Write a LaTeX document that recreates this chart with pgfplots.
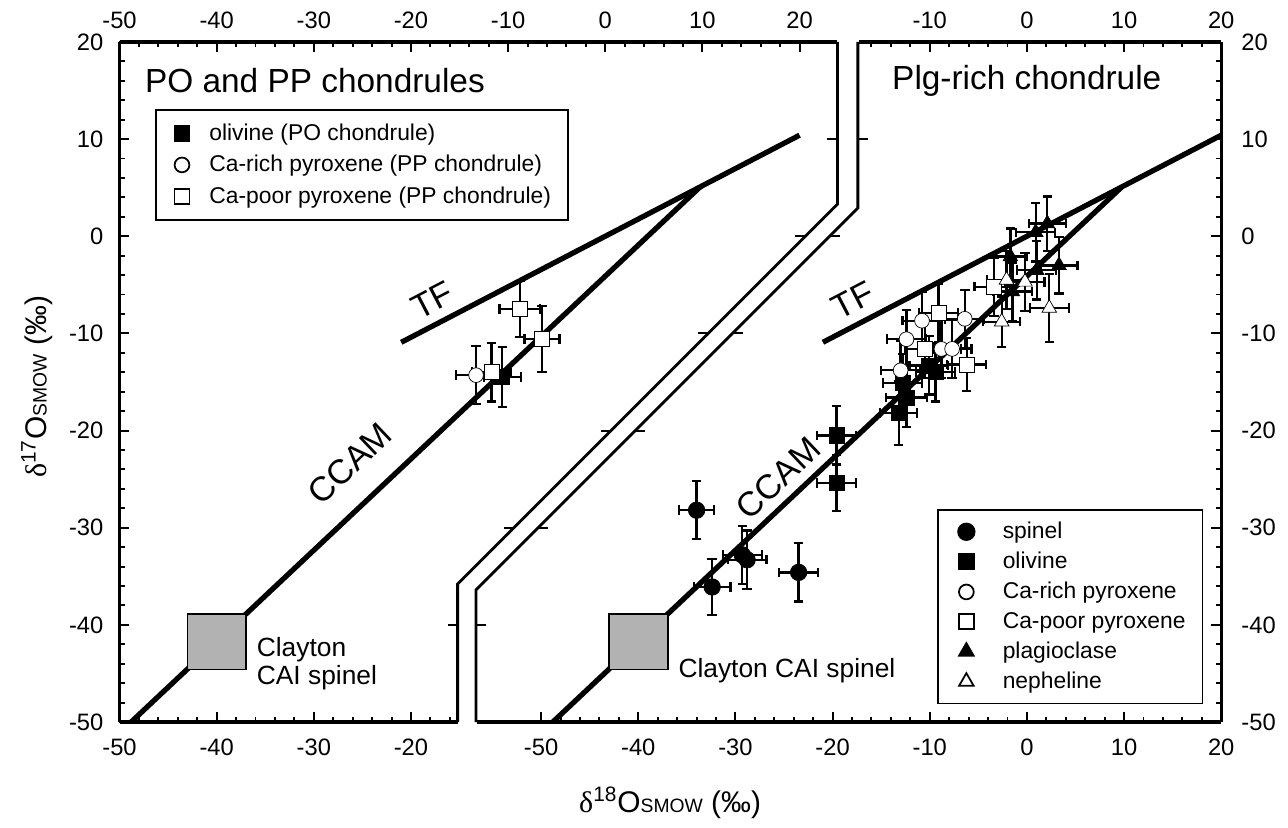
\documentclass[border=0pt]{standalone}
\usepackage{fontspec}
\setmainfont{Liberation Sans}
\newfontfamily\grk{Liberation Serif}
\usepackage{pgfplots}
\pgfplotsset{compat=1.18}

\def\W{22.034cm}
\def\H{13.601cm}

\tikzset{lbl/.style={inner sep=0pt, anchor=west}}
\pgfplotsset{
  base/.style={
    scale only axis, x=0.1943cm, y=0.1943cm,
    ymin=-50, ymax=20, clip=false,
    tick align=inside,
    major tick length=0.2cm, minor tick length=0.11cm,
    every tick/.append style={black, line width=1.1pt},
    axis line style={line width=1.8pt},
    tick label style={font=\fontsize{13.5}{15}\selectfont},
    /pgf/number format/assume math mode=true,
  },
  xonly/.style={base, axis y line=none, ytick=\empty},
  yonly/.style={base, axis x line=none, xtick=\empty,
    ytick={-50,-40,...,20}, minor ytick={-48,-46,...,18}},
  eb/.style={only marks, mark options={line width=1pt, solid},
    error bars/x dir=both, error bars/x explicit,
    error bars/y dir=both, error bars/y explicit,
    error bars/error mark=|,
    error bars/error bar style={line width=1.3pt},
    error bars/error mark options={line width=1.3pt, mark size=2.7pt}},
  fsq/.style={eb, mark=square*, mark size=4.3pt, mark options={fill=black}},
  osq/.style={eb, mark=square*, mark size=4.3pt, mark options={fill=white}},
  fci/.style={eb, mark=*, mark size=4.7pt, mark options={fill=black}},
  oci/.style={eb, mark=*, mark size=4.2pt, mark options={fill=white}},
  ftr/.style={eb, mark=triangle*, mark size=4.8pt, mark options={fill=black}},
  otr/.style={eb, mark=triangle*, mark size=4.8pt, mark options={fill=white}},
  refline/.style={line width=3pt, no marks},
  lgd/.style={legend cell align=left,
    legend style={draw=black, line width=1pt, font=\fontsize{13}{15}\selectfont,
      inner xsep=3pt}},
}

\begin{document}
\begin{tikzpicture}
\path[use as bounding box] (-2.39cm,-2.1cm) rectangle (23.37cm,14.44cm);
% x axis segments
\begin{axis}[xonly, axis x line*=bottom, xmin=-50, xmax=-15.2,
  xtick={-50,-40,-30,-20}, minor xtick={-48,-46,...,-16},
  xticklabel style={yshift=-0.22cm}, at={(0,0)}, anchor=south west]
\end{axis}
\begin{axis}[xonly, axis x line*=top, xmin=-50, xmax=23.9,
  xtick={-50,-40,...,20}, minor xtick={-48,-46,...,18},
  xticklabel style={yshift=0.14cm}, at={(0,\H)}, anchor=north west]
\end{axis}
\begin{axis}[xonly, axis x line*=bottom, xmin=-56.6, xmax=20,
  xtick={-50,-40,...,20}, minor xtick={-48,-46,...,18},
  xticklabel style={yshift=-0.22cm}, at={(\W,0)}, anchor=south east]
\end{axis}
\begin{axis}[xonly, axis x line*=top, xmin=-17.3, xmax=20,
  xtick={-10,0,10,20}, minor xtick={-16,-14,...,18},
  xticklabel style={yshift=0.14cm}, at={(\W,\H)}, anchor=north east]
\end{axis}

% left panel (PO and PP chondrules)
\begin{axis}[yonly, axis y line*=left, lgd, xmin=-50, xmax=63.4,
  at={(0,0)}, anchor=south west, yticklabel style={xshift=-0.2cm},
  legend image code/.code={\path (-0.40cm,0cm) (0.46cm,0cm);
    \draw[#1, only marks] plot coordinates {(0cm,0cm)};},
  legend style={at={(0.0322,0.9015)}, anchor=north west, row sep=3.0pt,
    inner ysep=6pt}]
\addplot[fsq] table[x=x,y=y,x error=ex,y error=ey] {
x y ex ey
-10.6 -14.5 1.9 3.1
};
\addlegendentry{olivine (PO chondrule)}
\addplot[oci] table[x=x,y=y,x error=ex,y error=ey] {
x y ex ey
-13.3 -14.3 2.1 3.0
};
\addlegendentry{Ca-rich pyroxene (PP chondrule)}
\addplot[osq] table[x=x,y=y,x error=ex,y error=ey] {
x y ex ey
-8.8 -7.5 2.1 2.9
-6.5 -10.6 1.8 3.4
-11.7 -14.0 2.0 3.0
};
\addlegendentry{Ca-poor pyroxene (PP chondrule)\kern0.16cm}
\addplot[refline, forget plot] coordinates {(-48.8,-50) (9.76,5.07)};
\addplot[refline, forget plot] coordinates {(-21,-10.92) (20,10.4)};
\addplot[fill=black!30, draw=black, line width=0.9pt, forget plot]
  coordinates {(-43.0,-44.6) (-36.96,-44.6) (-36.96,-38.9) (-43.0,-38.9)} -- cycle;
\node[lbl, font=\fontsize{19}{20}\selectfont] at (axis cs:-47.4,16.0) {PO and PP chondrules};
\node[lbl, align=left, font=\fontsize{15}{15.5}\selectfont] at (axis cs:-35.9,-44.0) {Clayton\\CAI spinel};
\node[rotate=27.5, font=\fontsize{19.5}{21}\selectfont] at (axis cs:-17.8,-6.6) {TF};
\node[rotate=43.5, font=\fontsize{19.5}{21}\selectfont] at (axis cs:-26.3,-23.4) {CCAM};
% break lines
\draw[line width=1.6pt] (axis cs:23.9,20) -- (axis cs:23.9,3.3) -- (axis cs:-15.2,-35.8) -- (axis cs:-15.2,-50);
\draw[line width=1.6pt] (axis cs:26.0,20) -- (axis cs:26.0,2.9) -- (axis cs:-13.3,-36.4) -- (axis cs:-13.3,-50);
\draw[line width=1.1pt] (axis cs:23.9,10) -- (axis cs:22.87,10);
\draw[line width=1.1pt] (axis cs:26.0,10) -- (axis cs:27.03,10);
\draw[line width=1.1pt] (axis cs:20.6,0) -- (axis cs:19.57,0);
\draw[line width=1.1pt] (axis cs:23.1,0) -- (axis cs:24.13,0);
\draw[line width=1.1pt] (axis cs:10.6,-10) -- (axis cs:9.57,-10);
\draw[line width=1.1pt] (axis cs:13.1,-10) -- (axis cs:14.13,-10);
\draw[line width=1.1pt] (axis cs:0.6,-20) -- (axis cs:-0.43,-20);
\draw[line width=1.1pt] (axis cs:3.1,-20) -- (axis cs:4.13,-20);
\draw[line width=1.1pt] (axis cs:-9.4,-30) -- (axis cs:-10.43,-30);
\draw[line width=1.1pt] (axis cs:-6.9,-30) -- (axis cs:-5.87,-30);
\draw[line width=1.1pt] (axis cs:-15.2,-40) -- (axis cs:-16.23,-40);
\draw[line width=1.1pt] (axis cs:-13.3,-40) -- (axis cs:-12.27,-40);
\node[rotate=90, font=\fontsize{17}{20}\selectfont] at (axis cs:-58.5,-15.5)
  {{\grk δ}\textsuperscript{17}O{\fontsize{11}{12}\selectfont SMOW} (‰)};
\node[font=\fontsize{17}{20}\selectfont] at (axis cs:6.67,-58.3)
  {{\grk δ}\textsuperscript{18}O{\fontsize{11}{12}\selectfont SMOW} (‰)};
\end{axis}

% right panel (Plg-rich chondrule)
\begin{axis}[yonly, axis y line*=right, lgd, xmin=-93.4, xmax=20,
  at={(0,0)}, anchor=south west, yticklabel style={xshift=0.28cm},
  legend image code/.code={\path (-0.44cm,0cm) (0.64cm,0cm);
    \draw[#1, only marks] plot coordinates {(0cm,0cm)};},
  legend style={at={(0.9837,0.3132)}, anchor=north east, row sep=2.2pt,
    inner ysep=5pt}]
\addplot[fci] table[x=x,y=y,x error=ex,y error=ey] {
x y ex ey
-34.0 -28.2 1.8 3.0
-32.4 -36.1 1.9 2.9
-29.3 -32.8 2.0 3.0
-28.8 -33.3 2.0 3.0
-23.5 -34.6 2.0 3.0
};
\addlegendentry{spinel}
\addplot[fsq] table[x=x,y=y,x error=ex,y error=ey] {
x y ex ey
-19.6 -20.5 2.0 3.0
-19.6 -25.4 2.0 2.9
-13.2 -18.2 1.9 3.3
-12.8 -15.1 2.0 3.0
-12.4 -16.6 2.1 3.0
-10.1 -13.3 2.0 3.0
-9.4 -14.0 2.0 3.0
};
\addlegendentry{olivine}
\addplot[oci] table[x=x,y=y,x error=ex,y error=ey] {
x y ex ey
-10.8 -8.7 2.0 3.0
-6.4 -8.5 2.0 3.0
-12.4 -10.6 2.0 3.0
-8.8 -11.6 2.0 3.0
-7.7 -11.6 2.0 3.0
-13.0 -13.8 2.0 3.0
};
\addlegendentry{Ca-rich pyroxene}
\addplot[osq] table[x=x,y=y,x error=ex,y error=ey] {
x y ex ey
-9.1 -7.9 2.0 3.0
-3.4 -5.2 2.0 3.0
-10.5 -11.6 2.0 3.0
-6.2 -13.2 2.0 2.7
};
\addlegendentry{Ca-poor pyroxene\kern0.16cm}
\addplot[ftr] table[x=x,y=y,x error=ex,y error=ey] {
x y ex ey
2.1 1.3 1.9 2.8
0.9 0.4 2.0 3.0
-1.7 -2.1 1.7 2.9
3.3 -3.0 1.9 2.9
1.0 -3.5 2.0 3.0
-1.5 -5.7 2.0 3.0
};
\addlegendentry{plagioclase}
\addplot[otr] table[x=x,y=y,x error=ex,y error=ey] {
x y ex ey
-2.1 -4.5 2.0 3.0
-0.2 -4.7 2.0 3.0
2.3 -7.4 2.0 3.5
-2.6 -8.8 1.9 2.6
};
\addlegendentry{nepheline}
\addplot[refline, forget plot] coordinates {(-48.8,-50) (9.76,5.07)};
\addplot[refline, forget plot] coordinates {(-21,-10.92) (20,10.4)};
\addplot[fill=black!30, draw=black, line width=0.9pt, forget plot]
  coordinates {(-43.0,-44.6) (-36.96,-44.6) (-36.96,-38.9) (-43.0,-38.9)} -- cycle;
\node[lbl, font=\fontsize{19}{20}\selectfont] at (axis cs:-13.9,16.0) {Plg-rich chondrule};
\node[lbl, font=\fontsize{15}{15.5}\selectfont] at (axis cs:-35.9,-44.7) {Clayton CAI spinel};
\node[rotate=27.5, font=\fontsize{19.5}{21}\selectfont] at (axis cs:-17.9,-6.6) {TF};
\node[rotate=43.5, font=\fontsize{19.5}{21}\selectfont] at (axis cs:-25.6,-24.9) {CCAM};
\end{axis}
\end{tikzpicture}
\end{document}
